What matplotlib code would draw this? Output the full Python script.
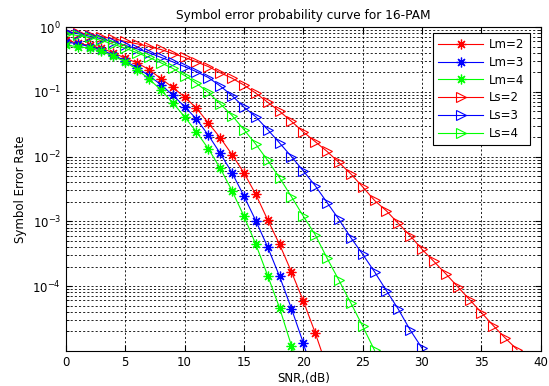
import numpy as np
import matplotlib
matplotlib.use('Agg')
import matplotlib.pyplot as plt
from matplotlib.ticker import LogLocator, NullFormatter

plt.rcParams['font.family'] = ['DejaVu Sans']

# symbol error rate, one value per dB
snr_lm2 = np.arange(0, 23)
ser_lm2 = [0.63, 0.56, 0.52, 0.47, 0.40, 0.33, 0.28, 0.22, 0.16, 0.117, 0.083,
           0.056, 0.033, 0.0195, 0.0107, 5.6e-3, 2.6e-3, 1.05e-3, 4.4e-4,
           1.66e-4, 5.9e-5, 1.9e-5, 5.5e-6]
snr_lm3 = np.arange(0, 22)
ser_lm3 = [0.59, 0.55, 0.50, 0.44, 0.37, 0.30, 0.234, 0.178, 0.129, 0.089, 0.059,
           0.038, 0.0214, 0.0112, 5.6e-3, 2.45e-3, 1.02e-3, 4.0e-4, 1.41e-4,
           4.5e-5, 1.32e-5, 3.5e-6]
snr_lm4 = np.arange(0, 21)
ser_lm4 = [0.52, 0.50, 0.47, 0.42, 0.355, 0.29, 0.22, 0.158, 0.107, 0.068, 0.041,
           0.024, 0.0132, 6.6e-3, 2.95e-3, 1.2e-3, 4.4e-4, 1.45e-4, 4.6e-5,
           1.2e-5, 3.2e-6]
snr_ls2 = np.arange(0, 39)
ser_ls2 = [0.85, 0.81, 0.76, 0.71, 0.66, 0.60, 0.55, 0.50, 0.45, 0.39, 0.34,
           0.29, 0.245, 0.197, 0.162, 0.127, 0.095, 0.069, 0.050, 0.035, 0.024,
           0.017, 0.012, 8.1e-3, 5.4e-3, 3.4e-3, 2.1e-3, 1.45e-3, 9.3e-4, 6.0e-4,
           3.7e-4, 2.4e-4, 1.55e-4, 9.8e-5, 6.2e-5, 3.9e-5, 2.45e-5, 1.58e-5,
           1.05e-5]
snr_ls3 = np.arange(0, 31)
ser_ls3 = [0.85, 0.79, 0.72, 0.66, 0.59, 0.52, 0.46, 0.40, 0.34, 0.29, 0.245,
           0.204, 0.166, 0.123, 0.087, 0.058, 0.041, 0.026, 0.0162, 0.010, 6.0e-3,
           3.55e-3, 1.95e-3, 1.07e-3, 5.6e-4, 3.1e-4, 1.66e-4, 8.5e-5, 4.4e-5,
           2.1e-5, 1.1e-5]
snr_ls4 = np.arange(0, 27)
ser_ls4 = [0.79, 0.74, 0.69, 0.62, 0.54, 0.47, 0.40, 0.34, 0.28, 0.23, 0.178,
           0.135, 0.098, 0.065, 0.043, 0.026, 0.0155, 8.7e-3, 4.7e-3, 2.4e-3,
           1.2e-3, 6.2e-4, 2.7e-4, 1.23e-4, 5.5e-5, 2.4e-5, 1.02e-5]

fig = plt.figure(figsize=(5.49, 3.86), dpi=100)
ax = fig.add_axes([0.120, 0.091, 0.865, 0.839])

red, blue, green = '#ff0000', '#0000ff', '#00ff00'
# matlab style asterisk: 8 spokes, no fill
star = dict(marker=(8, 2, 0), markersize=7, linewidth=0.8, markeredgewidth=0.9)
tri = dict(marker='>', markersize=7.5, linewidth=0.8, markerfacecolor='none',
           markeredgewidth=0.8)

ax.semilogy(snr_lm2, ser_lm2, color=red, label='Lm=2', **star)
ax.semilogy(snr_lm3, ser_lm3, color=blue, label='Lm=3', **star)
ax.semilogy(snr_lm4, ser_lm4, color=green, label='Lm=4', **star)
ax.semilogy(snr_ls2, ser_ls2, color=red, label='Ls=2', **tri)
ax.semilogy(snr_ls3, ser_ls3, color=blue, label='Ls=3', **tri)
ax.semilogy(snr_ls4, ser_ls4, color=green, label='Ls=4', **tri)

ax.set_xlim(0, 40)
ax.set_ylim(1e-5, 1)
ax.set_xticks(np.arange(0, 41, 5))
ax.set_yticks([1, 1e-1, 1e-2, 1e-3, 1e-4])
ax.yaxis.set_minor_locator(LogLocator(base=10, subs=np.arange(2, 10)))
ax.yaxis.set_minor_formatter(NullFormatter())

grid = dict(color='k', linestyle=(0, (2.5, 2.5)), linewidth=0.6)
ax.grid(True, which='major', **grid)
ax.grid(True, which='minor', axis='y', **grid)

ax.tick_params(which='both', direction='in', top=True, right=True, labelsize=8.5)
ax.tick_params(which='major', length=4)
ax.tick_params(which='minor', length=2)
for s in ax.spines.values():
    s.set_linewidth(0.8)

ax.set_title('Symbol error probability curve for 16-PAM', fontsize=8.7, pad=6)
ax.set_xlabel('SNR,(dB)', fontsize=8.5, labelpad=2)
ax.set_ylabel('Symbol Error Rate', fontsize=8.5, labelpad=4)

leg = ax.legend(loc='upper right', bbox_to_anchor=(0.977, 0.982),
                fontsize=8.5, fancybox=False, framealpha=1,
                edgecolor='k', borderaxespad=0, handlelength=3.8,
                labelspacing=0.4, borderpad=0.45, handletextpad=0.5)
leg.get_frame().set_linewidth(0.8)

fig.savefig('out.png', dpi=100)
